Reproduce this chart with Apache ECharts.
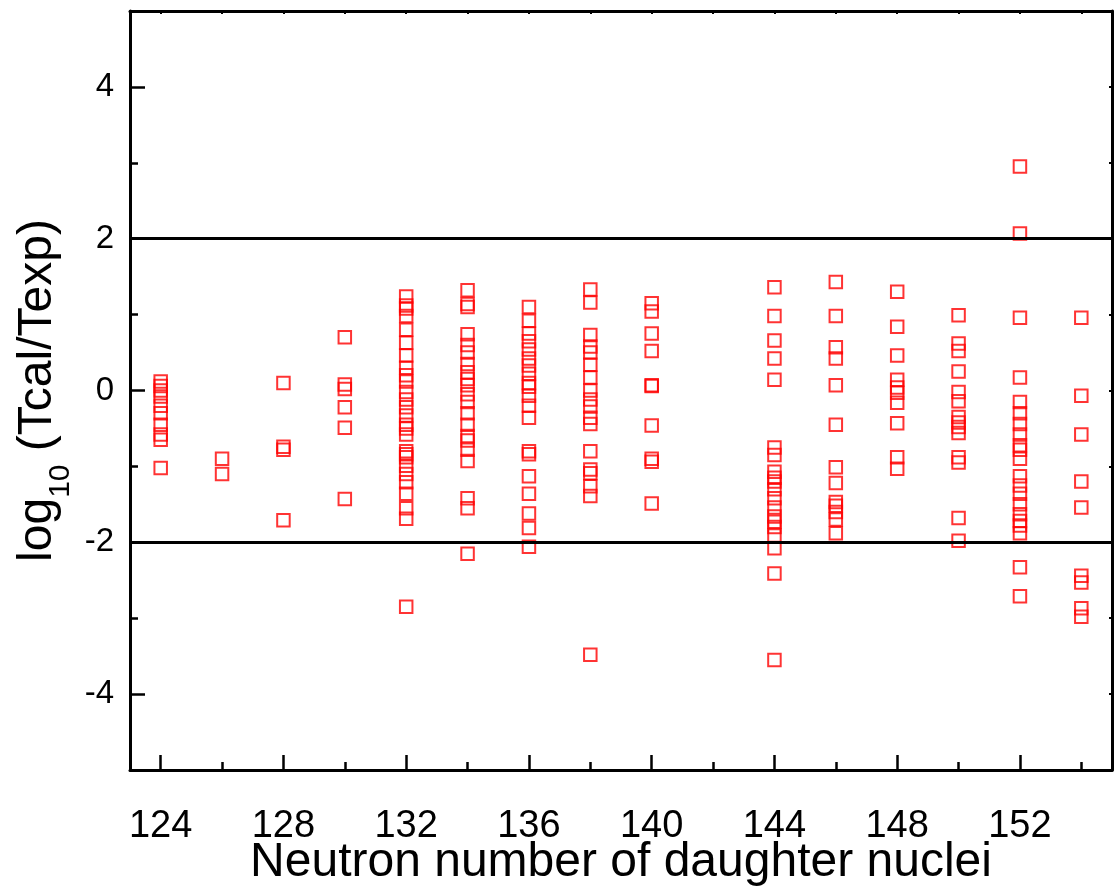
<!DOCTYPE html>
<html>
<head>
<meta charset="utf-8">
<script src="https://cdn.jsdelivr.net/npm/echarts@6/dist/echarts.min.js"></script>
<style>
  html, body { margin: 0; padding: 0; background: #fff; }
  #chart { width: 1114px; height: 888px; }
</style>
</head>
<body>
<div id="chart"></div>
<script>
// log10(Tcal/Texp), one list per neutron number
const n124 = [0.12, 0.06, 0.0, -0.08, -0.2, -0.3, -0.45, -0.58, -0.65, -1.02];
const n126 = [-0.9, -1.1];
const n128 = [0.1, -0.74, -0.78, -1.71];
const n130 = [0.7, 0.08, 0.02, -0.22, -0.49, -1.43];
const n132 = [1.24, 1.12, 1.08, 0.98, 0.8, 0.63, 0.46, 0.3, 0.2, 0.12, -0.02, -0.12, -0.22, -0.33, -0.45, -0.5,
  -0.58, -0.8, -0.84, -0.88, -0.99, -1.1, -1.21, -1.36, -1.55, -1.69, -2.85];
const n134 = [1.32, 1.14, 1.1, 0.74, 0.6, 0.5, 0.35, 0.24, 0.15, 0.07, -0.05, -0.15, -0.3, -0.45, -0.6, -0.66,
  -0.78, -0.93, -1.42, -1.55, -2.15];
const n136 = [1.1, 0.92, 0.75, 0.65, 0.54, 0.42, 0.33, 0.22, 0.1, 0.05, -0.07, -0.2, -0.36, -0.8, -0.84, -1.13,
  -1.36, -1.62, -1.81, -2.06];
const n138 = [1.33, 1.16, 0.73, 0.58, 0.5, 0.34, 0.17, 0.0, -0.12, -0.21, -0.36, -0.44, -0.8, -1.04, -1.09, -1.26,
  -1.39, -3.48];
const n140 = [1.15, 1.04, 0.75, 0.52, 0.07, 0.06, -0.46, -0.9, -0.94, -1.49];
const n144 = [1.36, 0.98, 0.66, 0.42, 0.14, -0.75, -0.85, -1.07, -1.15, -1.2, -1.3, -1.42, -1.54, -1.66, -1.73,
  -1.8, -1.91, -2.08, -2.41, -3.55];
const n146 = [1.43, 0.98, 0.57, 0.42, 0.07, -0.45, -1.01, -1.22, -1.47, -1.52, -1.6, -1.7, -1.88];
const n148 = [1.3, 0.84, 0.46, 0.14, 0.04, -0.03, -0.16, -0.43, -0.88, -1.03];
const n150 = [0.99, 0.62, 0.52, 0.25, -0.02, -0.14, -0.35, -0.42, -0.48, -0.56, -0.88, -0.95, -1.68, -1.98];
const n152 = [2.95, 2.07, 0.96, 0.17, -0.15, -0.3, -0.44, -0.58, -0.72, -0.78, -0.9, -1.13, -1.25, -1.36, -1.5,
  -1.63, -1.72, -1.78, -1.88, -2.33, -2.71];
const n154 = [0.96, -0.07, -0.58, -1.2, -1.54, -2.44, -2.53, -2.87, -2.98];

const neutronNumbers = [124, 126, 128, 130, 132, 134, 136, 138, 140, 144, 146, 148, 150, 152, 154];
const columns = [n124, n126, n128, n130, n132, n134, n136, n138, n140, n144, n146, n148, n150, n152, n154];

// axis ticks
const xMajorTicks = [124, 128, 132, 136, 140, 144, 148, 152];
const xMinorTicks = [126, 130, 134, 138, 142, 146, 150, 154];
const xTopTicks = [124, 126, 128, 130, 132, 134, 136, 138, 140, 142, 144, 146, 148, 150, 152, 154];
const yMajorTicks = [-4, -2, 0, 2, 4];
const yMinorTicks = [-3, -1, 1, 3];
const yRightTicks = [-4, -3, -2, -1, 0, 1, 2, 3, 4];
const limitLines = [2, -2];

const points = [];
neutronNumbers.forEach((n, i) => {
  columns[i].forEach(v => points.push([n, v]));
});

const font = '"Liberation Sans", Arial, Helvetica, sans-serif';
const black = '#000';

const chart = echarts.init(document.getElementById('chart'));

const hiddenAxis = (extra) => Object.assign({
  type: 'value',
  axisLine: { show: false, onZero: false },
  axisLabel: { show: false },
  splitLine: { show: false }
}, extra);

chart.setOption({
  backgroundColor: '#fff',
  animation: false,
  grid: { left: 130, right: 2, top: 11, bottom: 118, outerBoundsMode: 'none' },
  xAxis: [
    {
      type: 'value',
      min: 123,
      max: 155,
      position: 'bottom',
      name: 'Neutron number of daughter nuclei',
      nameLocation: 'middle',
      nameGap: 69,
      nameMoveOverlap: false,
      nameTextStyle: { fontFamily: font, fontSize: 48, color: black },
      axisLine: { onZero: false, lineStyle: { color: black, width: 3 } },
      axisTick: { inside: true, length: 15, lineStyle: { color: black, width: 2.5 }, customValues: xMajorTicks },
      axisLabel: { fontFamily: font, fontSize: 38, color: black, margin: 38, customValues: xMajorTicks },
      splitLine: { show: false }
    },
    hiddenAxis({
      min: 123, max: 155, position: 'bottom',
      axisTick: { inside: true, length: 8, lineStyle: { color: black, width: 2.5 }, customValues: xMinorTicks }
    }),
    {
      type: 'value',
      min: 123, max: 155, position: 'top',
      axisLine: { onZero: false, lineStyle: { color: black, width: 3 } },
      axisTick: { inside: true, length: 3, lineStyle: { color: black, width: 2 }, customValues: xTopTicks },
      axisLabel: { show: false },
      splitLine: { show: false }
    }
  ],
  yAxis: [
    {
      type: 'value',
      min: -5,
      max: 5,
      position: 'left',
      name: '{t|log}{s|10}{t| (Tcal/Texp)}',
      nameLocation: 'middle',
      nameRotate: 90,
      nameGap: 68,
      nameMoveOverlap: false,
      nameTextStyle: {
        rich: {
          t: { fontFamily: font, fontSize: 48, color: black },
          s: { fontFamily: font, fontSize: 30, color: black, verticalAlign: 'bottom', padding: [0, 0, -14, 0] }
        }
      },
      axisLine: { onZero: false, lineStyle: { color: black, width: 3 } },
      axisTick: { inside: true, length: 15, lineStyle: { color: black, width: 2.5 }, customValues: yMajorTicks },
      axisLabel: { fontFamily: font, fontSize: 33, color: black, margin: 16, customValues: yMajorTicks },
      splitLine: { show: false }
    },
    hiddenAxis({
      min: -5, max: 5, position: 'left',
      axisTick: { inside: true, length: 8, lineStyle: { color: black, width: 2.5 }, customValues: yMinorTicks }
    }),
    {
      type: 'value',
      min: -5, max: 5, position: 'right',
      axisLine: { onZero: false, lineStyle: { color: black, width: 3 } },
      axisTick: { inside: true, length: 3, lineStyle: { color: black, width: 2 }, customValues: yRightTicks },
      axisLabel: { show: false },
      splitLine: { show: false }
    }
  ],
  series: [
    {
      type: 'scatter',
      xAxisIndex: 0,
      yAxisIndex: 0,
      symbol: 'rect',
      symbolSize: 12.5,
      itemStyle: { color: 'rgba(0,0,0,0)', borderColor: '#ff0000', borderWidth: 2 },
      data: points,
      markLine: {
        silent: true,
        symbol: 'none',
        label: { show: false },
        lineStyle: { color: black, width: 3, type: 'solid' },
        data: limitLines.map(v => ({ yAxis: v }))
      }
    }
  ]
});
</script>
</body>
</html>
